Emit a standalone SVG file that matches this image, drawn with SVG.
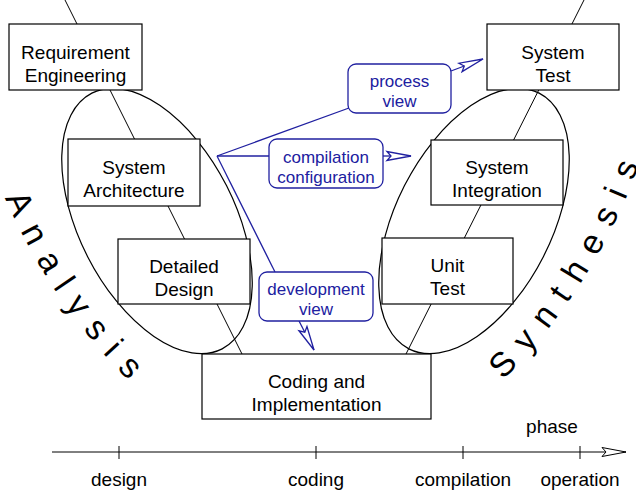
<svg xmlns="http://www.w3.org/2000/svg" width="636" height="490" viewBox="0 0 636 490">
<defs>
<style>
.box{fill:#fff;stroke:#000;stroke-width:1.2}
.ell{fill:none;stroke:#000;stroke-width:1.2}
.ln{fill:none;stroke:#000;stroke-width:1}
.lbl{font-family:"Liberation Sans",Arial,sans-serif;font-size:19px;fill:#000;text-anchor:middle}
.blbl{font-family:"Liberation Sans",Arial,sans-serif;font-size:17px;fill:#2020a0;text-anchor:middle}
.bbox{fill:#fff;stroke:#2020a0;stroke-width:1.3}
.bline{fill:none;stroke:#2020a0;stroke-width:1.3}
.big{font-family:"Liberation Sans",Arial,sans-serif;font-size:34px;letter-spacing:13.6px;fill:#000}
</style>
<marker id="barb" markerUnits="userSpaceOnUse" markerWidth="28" markerHeight="14" viewBox="-26 -7 28 14" refX="0" refY="0" orient="auto">
<path d="M0,0 L-24,-4.5 L-20,0 L-24,4.5 Z" fill="#fff" stroke="#2020a0" stroke-width="1.3"/>
</marker>
<marker id="barbk" markerUnits="userSpaceOnUse" markerWidth="28" markerHeight="14" viewBox="-26 -7 28 14" refX="0" refY="0" orient="auto">
<path d="M0,0 L-24,-4.5 L-20,0 L-24,4.5 Z" fill="#fff" stroke="#000" stroke-width="1"/>
</marker>
<path id="anaPath" d="M 5.1 197.9 A 589 589 0 0 0 251.5 475.1"/>
<path id="synPath" d="M 503 380 A 589 589 0 0 0 665 67.3"/>
</defs>
<rect width="636" height="490" fill="#fff"/>

<g id="flow-lines">
<line class="ln" x1="65" y1="0" x2="242" y2="354"/>
<line class="ln" x1="584" y1="0" x2="406" y2="354"/>
</g>

<g id="analysis-group">
<ellipse class="ell" cx="0" cy="0" rx="78" ry="143.5" transform="translate(157 221) rotate(-27)"/>
<text class="big"><textPath href="#anaPath">Analysis</textPath></text>
</g>
<g id="synthesis-group">
<ellipse class="ell" cx="0" cy="0" rx="78" ry="143.5" transform="translate(474 221) rotate(27)"/>
<text class="big"><textPath href="#synPath">Synthesis</textPath></text>
</g>

<g id="req-eng">
<rect class="box" x="9" y="24" width="133" height="66"/>
<text class="lbl" x="75.5" y="59">Requirement</text>
<text class="lbl" x="75.5" y="82">Engineering</text>
</g>
<g id="sys-arch">
<rect class="box" x="68" y="139" width="132" height="67"/>
<text class="lbl" x="134" y="173.5">System</text>
<text class="lbl" x="134" y="196.5">Architecture</text>
</g>
<g id="det-design">
<rect class="box" x="118" y="239" width="132" height="65"/>
<text class="lbl" x="184" y="272.5">Detailed</text>
<text class="lbl" x="184" y="295.5">Design</text>
</g>
<g id="coding">
<rect class="box" x="202" y="354" width="229" height="65"/>
<text class="lbl" x="316.5" y="387.5">Coding and</text>
<text class="lbl" x="316.5" y="410.5">Implementation</text>
</g>
<g id="unit-test">
<rect class="box" x="382" y="238" width="131" height="66"/>
<text class="lbl" x="447.5" y="272">Unit</text>
<text class="lbl" x="447.5" y="295">Test</text>
</g>
<g id="sys-int">
<rect class="box" x="431" y="140" width="132" height="65"/>
<text class="lbl" x="497" y="173.5">System</text>
<text class="lbl" x="497" y="196.5">Integration</text>
</g>
<g id="sys-test">
<rect class="box" x="487" y="24" width="132" height="66"/>
<text class="lbl" x="553" y="59">System</text>
<text class="lbl" x="553" y="82">Test</text>
</g>

<g id="connectors">
<line class="bline" x1="217" y1="156" x2="349" y2="108"/>
<line class="bline" x1="217" y1="156" x2="269" y2="156"/>
<line class="bline" x1="217" y1="156" x2="275" y2="272"/>
<line class="bline" x1="451" y1="71" x2="483" y2="59" marker-end="url(#barb)"/>
<line class="bline" x1="383" y1="156" x2="411" y2="156" marker-end="url(#barb)"/>
<line class="bline" x1="299" y1="321" x2="314" y2="350" marker-end="url(#barb)"/>
</g>

<g id="process-view">
<rect class="bbox" x="348" y="64" width="103" height="49" rx="8"/>
<text class="blbl" x="399.5" y="87">process</text>
<text class="blbl" x="399.5" y="107">view</text>
</g>
<g id="compilation-config">
<rect class="bbox" x="269" y="139" width="114" height="49" rx="8"/>
<text class="blbl" x="326" y="163">compilation</text>
<text class="blbl" x="326" y="183">configuration</text>
</g>
<g id="development-view">
<rect class="bbox" x="259" y="272" width="114" height="49" rx="8"/>
<text class="blbl" x="316" y="295">development</text>
<text class="blbl" x="316" y="315">view</text>
</g>

<g id="phase-axis">
<line class="ln" x1="52" y1="452" x2="626" y2="452" marker-end="url(#barbk)"/>
<line class="ln" x1="119" y1="446" x2="119" y2="459"/>
<line class="ln" x1="316" y1="446" x2="316" y2="459"/>
<line class="ln" x1="463" y1="446" x2="463" y2="459"/>
<line class="ln" x1="580" y1="446" x2="580" y2="459"/>
<text class="lbl" x="552" y="433">phase</text>
<text class="lbl" x="119" y="486">design</text>
<text class="lbl" x="316" y="486">coding</text>
<text class="lbl" x="463" y="486">compilation</text>
<text class="lbl" x="580" y="486">operation</text>
</g>
</svg>
